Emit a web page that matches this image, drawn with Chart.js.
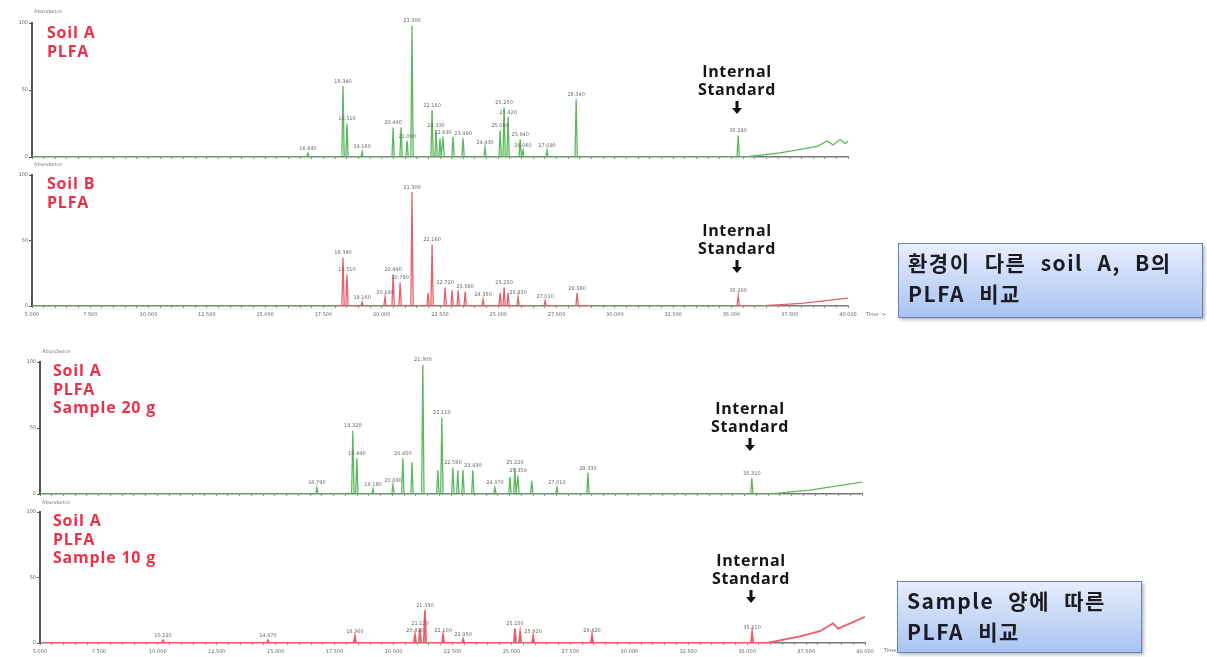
<!DOCTYPE html>
<html>
<head>
<meta charset="utf-8">
<script src="https://cdn.jsdelivr.net/npm/chart.js@4.4.0/dist/chart.umd.min.js"></script>
<style>
  html, body { margin: 0; padding: 0; background: #fff; }
  #stage { position: relative; width: 1207px; height: 657px; overflow: hidden; font-family: "Open Sans", "Noto Sans", sans-serif; }
  #stage canvas { position: absolute; left: 0; }
  .tag { position: absolute; color: #e8324a; font-weight: 700; font-size: 16px; line-height: 18.5px; letter-spacing: 0.8px; white-space: nowrap; }
  .istd { position: absolute; width: 120px; text-align: center; color: #151515; font-weight: 700; font-size: 16px; line-height: 17.5px; letter-spacing: 0.6px; white-space: nowrap; }
  .istd svg { display: block; margin: 3px auto 0; }
  .abund { position: absolute; font-size: 5px; color: #777; font-family: "DejaVu Sans", sans-serif; }
  .timeLbl { position: absolute; font-size: 5px; color: #666; font-family: "DejaVu Sans", sans-serif; }
  .note { position: absolute; box-sizing: border-box; border: 1.5px solid #6682b8; background: linear-gradient(#e8eefc, #a9c3f3);
          box-shadow: 2px 2px 3px rgba(60,60,60,0.35); font-family: "Noto Sans CJK KR", sans-serif; font-weight: 700;
          font-size: 21px; line-height: 31px; color: #1b1b24; padding: 3px 0 0 9px; letter-spacing: 1.5px; word-spacing: 8px; white-space: nowrap; }
</style>
</head>
<body>
<div id="stage">
  <canvas id="cSoilA"></canvas>
  <canvas id="cSoilB"></canvas>
  <canvas id="cS20"></canvas>
  <canvas id="cS10"></canvas>

  <div class="abund" style="left:34px;top:8px;">Abundance</div>
  <div class="abund" style="left:34px;top:161px;">Abundance</div>
  <div class="abund" style="left:42px;top:348px;">Abundance</div>
  <div class="abund" style="left:42px;top:499px;">Abundance</div>
  <div class="timeLbl" style="left:866px;top:311px;">Time--&gt;</div>
  <div class="timeLbl" style="left:884px;top:647px;">Time--&gt;</div>

  <div class="tag" style="left:47px;top:23px;">Soil A<br>PLFA</div>
  <div class="tag" style="left:47px;top:174px;">Soil B<br>PLFA</div>
  <div class="tag" style="left:53px;top:361px;">Soil A<br>PLFA<br>Sample 20 g</div>
  <div class="tag" style="left:53px;top:511px;">Soil A<br>PLFA<br>Sample 10 g</div>

  <div class="istd" style="left:677px;top:63px;">Internal<br>Standard<svg width="10" height="13" viewBox="0 0 10 13"><path d="M3.5 0h3v7h3.5l-5 6l-5-6h3.5z" fill="#111"/></svg></div>
  <div class="istd" style="left:677px;top:222px;">Internal<br>Standard<svg width="10" height="13" viewBox="0 0 10 13"><path d="M3.5 0h3v7h3.5l-5 6l-5-6h3.5z" fill="#111"/></svg></div>
  <div class="istd" style="left:690px;top:400px;">Internal<br>Standard<svg width="10" height="13" viewBox="0 0 10 13"><path d="M3.5 0h3v7h3.5l-5 6l-5-6h3.5z" fill="#111"/></svg></div>
  <div class="istd" style="left:691px;top:552px;">Internal<br>Standard<svg width="10" height="13" viewBox="0 0 10 13"><path d="M3.5 0h3v7h3.5l-5 6l-5-6h3.5z" fill="#111"/></svg></div>

  <div class="note" style="left:898px;top:243px;width:305px;height:75px;">환경이 다른 soil A, B의<br>PLFA 비교</div>
  <div class="note" style="left:897px;top:581px;width:245px;height:72px;">Sample 양에 따른<br>PLFA 비교</div>
</div>

<script>
// Retention-time axis (min) and its labels
const timeStart = 5;
const timeEnd = 40;
const timeTickLabels = ['5.000', '7.500', '10.000', '12.500', '15.000', '17.500', '20.000', '22.500',
                        '25.000', '27.500', '30.000', '32.500', '35.000', '37.500', '40.000'];
const abundanceTicks = [0, 50, 100];

// Soil A PLFA: peak retention times (min) and relative abundance (%)
const soilATimes   = [16.84, 18.34, 18.51, 19.16, 20.49, 20.83, 21.09, 21.30, 22.16, 22.33, 22.50, 22.63,
                      23.06, 23.49, 24.43, 25.08, 25.25, 25.42, 25.94, 26.06, 27.09, 28.34, 35.29];
const soilAHeights = [3, 53, 25, 4, 22, 22, 12, 98, 35, 20, 14, 15,
                      15, 14, 7, 20, 37, 30, 13, 5, 5, 43, 16];
const soilADriftTimes  = [35.59, 37.09, 38.68, 39.11, 39.36, 39.66, 39.88, 40.0];
const soilADriftLevels = [0, 3, 8, 12, 9, 13, 10, 12];

// Soil B PLFA
const soilBTimes   = [18.34, 18.51, 19.16, 20.14, 20.49, 20.79, 21.30, 21.99, 22.16, 22.72, 23.02, 23.28,
                      23.58, 24.35, 25.08, 25.25, 25.42, 25.85, 27.01, 28.38, 35.29];
const soilBHeights = [37, 24, 3, 7, 24, 18, 87, 10, 47, 14, 12, 12,
                      11, 5, 10, 14, 10, 7, 4, 10, 8];
const soilBDriftTimes  = [36.23, 38.0, 40.0];
const soilBDriftLevels = [0, 2, 6];

// Soil A PLFA, sample 20 g
const s20Times   = [16.79, 18.32, 18.49, 19.18, 20.03, 20.45, 20.84, 21.30, 21.94, 22.11, 22.58, 22.79,
                    23.01, 23.43, 24.37, 25.01, 25.22, 25.35, 25.94, 27.01, 28.33, 35.31];
const s20Heights = [5, 48, 27, 4, 7, 27, 24, 98, 18, 58, 20, 18,
                    18, 18, 5, 13, 20, 14, 10, 5, 16, 12];
const s20DriftTimes  = [36.08, 37.78, 40.0];
const s20DriftLevels = [0, 3, 9];

// Soil A PLFA, sample 10 g
const s10Times   = [10.22, 14.67, 18.36, 20.91, 21.12, 21.33, 22.10, 22.95, 25.15, 25.37, 25.92, 28.42, 35.21];
const s10Heights = [2, 2, 5, 6, 11, 25, 6, 3, 11, 8, 5, 6, 8];
const s10DriftTimes  = [35.84, 37.24, 38.09, 38.64, 38.86, 39.37, 40.0];
const s10DriftLevels = [0, 5, 9, 15, 11, 15, 20];

const PEAK_HALF_WIDTH = 0.05;

// Chromatogram trace: each peak rises from the baseline to its apex and back,
// followed by the late-eluting baseline drift points.
function buildTrace(times, heights, driftTimes, driftLevels) {
  const pts = [{ x: timeStart, y: 0 }];
  times.forEach((t, i) => {
    pts.push({ x: t - PEAK_HALF_WIDTH, y: 0 }, { x: t, y: heights[i] }, { x: t + PEAK_HALF_WIDTH, y: 0 });
  });
  driftTimes.forEach((t, i) => pts.push({ x: t, y: driftLevels[i] }));
  return pts;
}

// Retention-time labels above the peaks, skipping ones that would collide
const peakLabels = {
  id: 'peakLabels',
  afterDatasetsDraw(chart, args, opts) {
    const { ctx, scales: { x, y } } = chart;
    const idx = opts.times.map((t, i) => i).sort((a, b) => opts.heights[b] - opts.heights[a]);
    const placed = [];
    ctx.save();
    ctx.font = '5px "DejaVu Sans", sans-serif';
    ctx.fillStyle = '#666';
    ctx.textAlign = 'center';
    ctx.textBaseline = 'bottom';
    idx.forEach(i => {
      const txt = opts.times[i].toFixed(3);
      const w = ctx.measureText(txt).width;
      const cx = x.getPixelForValue(opts.times[i]);
      const by = y.getPixelForValue(opts.heights[i]) - 2;
      const box = { l: cx - w / 2 - 1, r: cx + w / 2 + 1, t: by - 6, b: by };
      if (placed.some(p => !(box.r < p.l || box.l > p.r || box.b < p.t || box.t > p.b))) return;
      placed.push(box);
      ctx.fillText(txt, cx, by);
    });
    ctx.restore();
  }
};

function drawPanel(id, trace, color, lineWidth, area, showTimeLabels, times, heights) {
  const canvas = document.getElementById(id);
  const padTop = 10, padRight = 22;
  const axisHeight = showTimeLabels ? 16 : 8;
  const width = area.right + padRight;
  const height = padTop + (area.bottom - area.top) + axisHeight;
  canvas.width = width; canvas.height = height;
  canvas.style.width = width + 'px'; canvas.style.height = height + 'px';
  canvas.style.top = (area.top - padTop) + 'px';

  new Chart(canvas, {
    type: 'line',
    data: { datasets: [{ data: trace, borderColor: color, borderWidth: lineWidth, pointRadius: 0, tension: 0, fill: false }] },
    options: {
      responsive: false,
      animation: false,
      layout: { padding: { top: padTop, right: padRight, left: 0, bottom: 0 } },
      plugins: { legend: { display: false }, tooltip: { enabled: false }, peakLabels: { times, heights } },
      scales: {
        x: {
          type: 'linear', min: timeStart, max: timeEnd,
          afterFit(s) { s.height = axisHeight; },
          ticks: {
            stepSize: 0.5, autoSkip: false, maxRotation: 0, padding: 4, color: '#666',
            font: { size: 5, family: 'DejaVu Sans' },
            callback(v) {
              const k = (v - timeStart) / 2.5;
              if (!showTimeLabels || Math.abs(k - Math.round(k)) > 1e-6) return '';
              return timeTickLabels[Math.round(k)];
            }
          },
          grid: { drawOnChartArea: false, tickLength: 2, color: '#888' },
          border: { color: '#777', width: 1.5 }
        },
        y: {
          min: 0, max: 100,
          afterFit(s) { s.width = area.left; },
          afterBuildTicks(s) { s.ticks = abundanceTicks.map(v => ({ value: v })); },
          ticks: { color: '#666', padding: 1, font: { size: 5, family: 'DejaVu Sans' } },
          grid: { drawOnChartArea: false, tickLength: 3, color: '#555' },
          border: { color: '#555', width: 2 }
        }
      }
    },
    plugins: [peakLabels]
  });
}

const GREEN = '#5cb85c';
const RED = '#e6606a';

drawPanel('cSoilA', buildTrace(soilATimes, soilAHeights, soilADriftTimes, soilADriftLevels), GREEN, 1.3,
          { left: 32, right: 848, top: 23, bottom: 157 }, false, soilATimes, soilAHeights);
drawPanel('cSoilB', buildTrace(soilBTimes, soilBHeights, soilBDriftTimes, soilBDriftLevels), RED, 1.3,
          { left: 32, right: 848, top: 175, bottom: 306 }, true, soilBTimes, soilBHeights);
drawPanel('cS20', buildTrace(s20Times, s20Heights, s20DriftTimes, s20DriftLevels), GREEN, 1.3,
          { left: 40, right: 862, top: 362, bottom: 494 }, false, s20Times, s20Heights);
drawPanel('cS10', buildTrace(s10Times, s10Heights, s10DriftTimes, s10DriftLevels), RED, 1.8,
          { left: 40, right: 865, top: 512, bottom: 643 }, true, s10Times, s10Heights);
</script>
</body>
</html>
